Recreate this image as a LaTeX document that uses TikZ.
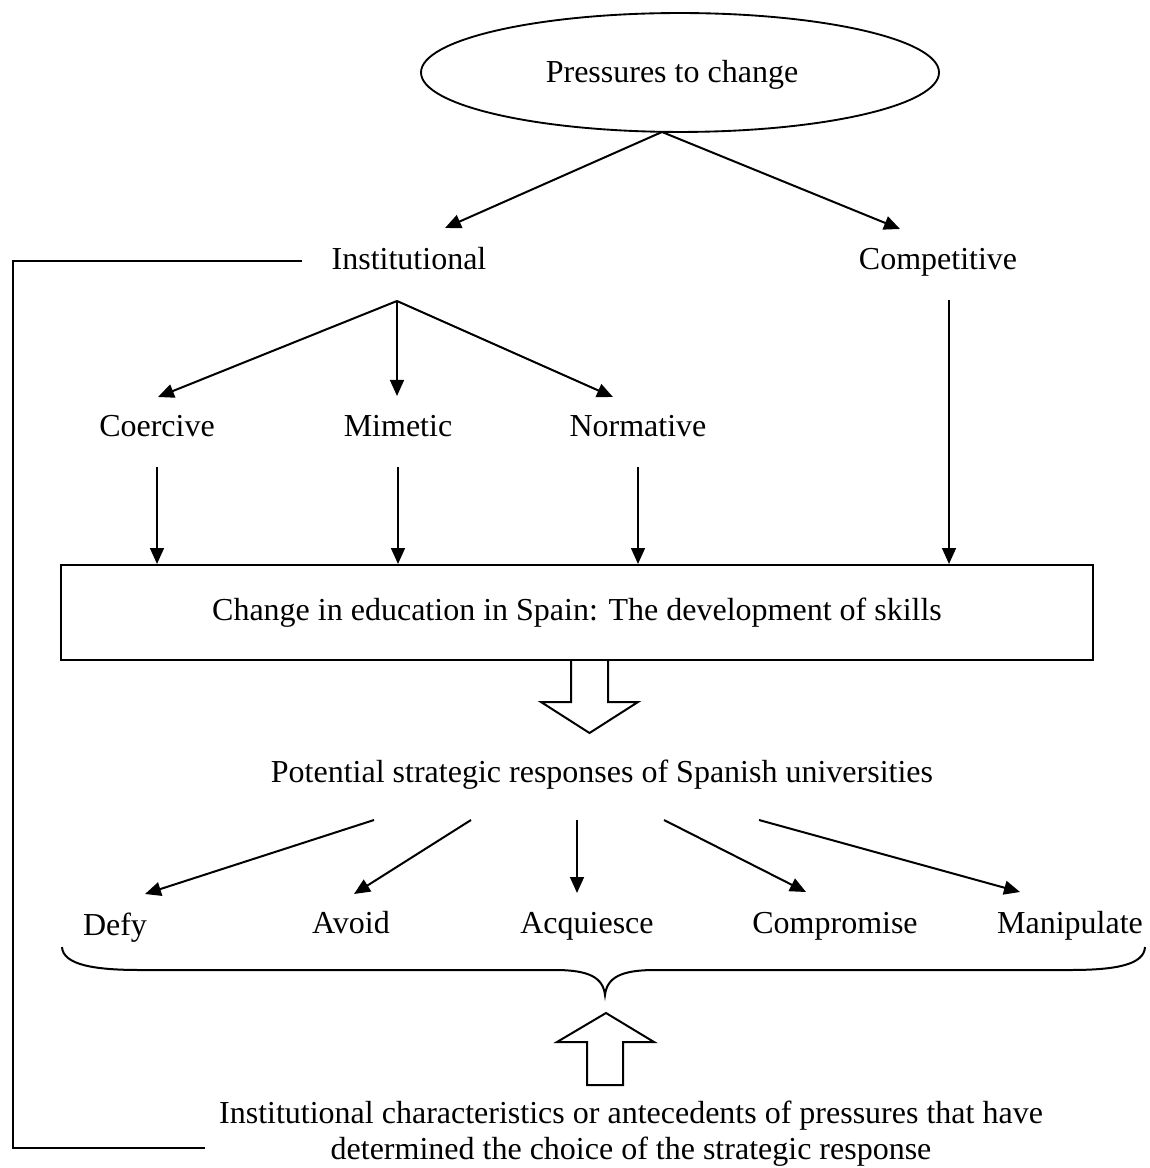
\documentclass[tikz,border=0pt]{standalone}
\usepackage{fontspec}
\setmainfont{Liberation Serif}
\usetikzlibrary{arrows.meta,shapes.geometric}
\begin{document}
\begin{tikzpicture}[x=0.375pt,y=-0.375pt,
  every node/.style={font=\fontsize{12}{13.5}\selectfont, inner sep=0pt},
  lbl/.style={anchor=base},
  ln/.style={line width=0.75pt},
  arr/.style={line width=0.75pt,-{Triangle[length=6pt,width=5.2pt]}},
  hollow/.style={line width=0.75pt, fill=white, line join=miter}]
\useasboundingbox (0,0) rectangle (1149,1168);

% nodes
\node[draw, ellipse, line width=0.7pt, minimum width=194.25pt, minimum height=44.6pt] (press) at (680,72.5) {};
\node[lbl] (presst) at (672,83) {Pressures to change};
\node[lbl] (inst) at (409,270) {Institutional};
\node[lbl] (comp) at (938,270) {Competitive};
\node[lbl] (coer) at (157,437) {Coercive};
\node[lbl] (mime) at (398,437) {Mimetic};
\node[lbl] (norm) at (638,437) {Normative};
\node[draw, ln, minimum width=387pt, minimum height=35.6pt] (chg) at (577,612.5) {Change in education in Spain: The development of skills};
\node[lbl] (pot) at (602,782) {Potential strategic responses of Spanish universities};
\node[lbl] (defy) at (115,935) {Defy};
\node[lbl] (avoid) at (351,933) {Avoid};
\node[lbl] (acq) at (587,933) {Acquiesce};
\node[lbl] (compr) at (835,933) {Compromise};
\node[lbl] (manip) at (1070,933) {Manipulate};
\node[align=center] (antec) at (631,1133.5) {Institutional characteristics or antecedents of pressures that have\\determined the choice of the strategic response};

% connector end points
\coordinate (press-b) at (662,132);
\coordinate (inst-t) at (445,228);
\coordinate (comp-t) at (900,229);
\coordinate (inst-b) at (397,301);
\coordinate (coer-t) at (158,397);
\coordinate (mime-t) at (397,396);
\coordinate (norm-t) at (613,397);
\coordinate (coer-b) at (157,467);
\coordinate (mime-b) at (398,467);
\coordinate (norm-b) at (638,467);
\coordinate (comp-b) at (949,300);
\coordinate (chg-1) at (157,564);
\coordinate (chg-2) at (398,564);
\coordinate (chg-3) at (638,564);
\coordinate (chg-4) at (949,564);
\coordinate (pot-1) at (374,820);
\coordinate (pot-2) at (471,820);
\coordinate (pot-3) at (577,820);
\coordinate (pot-4) at (664,820);
\coordinate (pot-5) at (759,820);
\coordinate (defy-t) at (145,894);
\coordinate (avoid-t) at (354,894);
\coordinate (acq-t) at (577,893);
\coordinate (compr-t) at (806,892);
\coordinate (manip-t) at (1020,892);
\coordinate (fb-a) at (302,261);
\coordinate (fb-b) at (205,1148);

% connectors
\draw[arr] (press-b) -- (inst-t);
\draw[arr] (press-b) -- (comp-t);
\draw[arr] (inst-b) -- (coer-t);
\draw[arr] (inst-b) -- (mime-t);
\draw[arr] (inst-b) -- (norm-t);
\draw[arr] (coer-b) -- (chg-1);
\draw[arr] (mime-b) -- (chg-2);
\draw[arr] (norm-b) -- (chg-3);
\draw[arr] (comp-b) -- (chg-4);
\draw[arr] (pot-1) -- (defy-t);
\draw[arr] (pot-2) -- (avoid-t);
\draw[arr] (pot-3) -- (acq-t);
\draw[arr] (pot-4) -- (compr-t);
\draw[arr] (pot-5) -- (manip-t);
\draw[ln] (fb-a) -- (13,261) |- (fb-b);

% hollow arrows
\draw[hollow] (571,661) -- (571,702) -- (541,702) -- (589.5,733) -- (638,702) -- (608,702) -- (608,661);
\draw[hollow] (587,1085) -- (587,1042) -- (557,1042) -- (606,1013) -- (654,1042) -- (623,1042) -- (623,1085) -- cycle;

% brace
\draw[ln] (62,947) .. controls (63,965) and (95,970) .. (140,970) -- (555,970)
  .. controls (590,970) and (603,978) .. (605,995)
  .. controls (607,978) and (620,970) .. (655,970) -- (1070,970)
  .. controls (1115,970) and (1144,965) .. (1145,947);
\end{tikzpicture}
\end{document}
